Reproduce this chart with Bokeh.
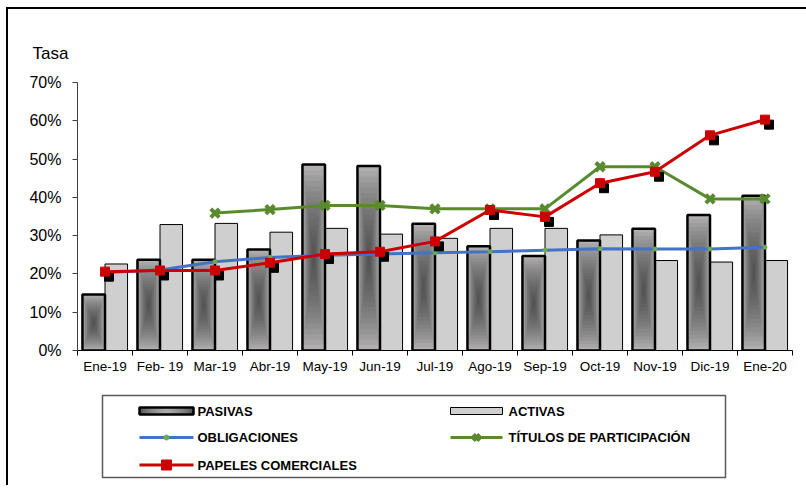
import numpy as np
from bokeh.plotting import figure
from bokeh.layouts import column
from bokeh.models import Range1d, FixedTicker, PrintfTickFormatter
from bokeh.core.properties import value
from bokeh.embed import file_html
from bokeh.resources import INLINE

# ---------------- data ----------------
months = ["Ene-19", "Feb- 19", "Mar-19", "Abr-19", "May-19", "Jun-19", "Jul-19",
          "Ago-19", "Sep-19", "Oct-19", "Nov-19", "Dic-19", "Ene-20"]
pasivas = [14.6, 23.7, 23.7, 26.4, 48.6, 48.2, 33.1, 27.2, 24.7, 28.7, 31.8, 35.4, 40.4]
activas = [22.6, 32.9, 33.2, 30.9, 31.9, 30.4, 29.3, 31.9, 31.9, 30.2, 23.5, 23.1, 23.5]
obligaciones = [20.4, 21.0, 23.2, 24.3, 24.9, 25.2, 25.5, 25.8, 26.2, 26.6, 26.5, 26.5, 27.0]
titulos = [np.nan, np.nan, 35.9, 36.8, 37.9, 37.9, 37.0, 37.0, 37.0, 48.0, 48.0, 39.6, 39.6]
papeles = [20.6, 20.9, 20.9, 22.9, 25.2, 25.8, 28.5, 36.7, 34.9, 43.7, 46.7, 56.2, 60.3]
y_ticks = [0, 10, 20, 30, 40, 50, 60, 70]
legend_labels = ["PASIVAS", "ACTIVAS", "OBLIGACIONES", "TÍTULOS DE PARTICIPACIÓN",
                 "PAPELES COMERCIALES"]

# ---------------- styles ----------------
FONT = "Liberation Sans"
C_ACT = "#d0cfcf"
C_PAS = "#b0aeae"
C_BLUE = "#4472C4"
C_DOT = "#70AD47"
C_GREEN = "#5A8A2E"
C_RED = "#CC0000"

# ---------------- layout constants (pixels) ----------------
W = 798
H1, H2 = 376, 100
FL, FT = 69, 73          # frame left / top inside chart canvas
FW, FH = 715, 268        # frame width / height
FR = W - FL - FW

x = np.arange(len(months), dtype=float)
BAR_W = 0.41
px_per_x = FW / len(months)
px_per_y = FH / (y_ticks[-1] - y_ticks[0])

p = figure(width=W, height=H1, output_backend="svg", toolbar_location=None,
           x_range=Range1d(-0.5, len(months) - 0.5), y_range=Range1d(y_ticks[0], y_ticks[-1]),
           min_border_left=FL, min_border_top=FT, min_border_right=FR,
           min_border_bottom=H1 - FT - FH)
p.grid.visible = False
p.outline_line_color = None
p.background_fill_color = "white"
p.border_fill_color = "white"

# ---------------- bars ----------------
p.vbar(x=x + BAR_W / 2, top=activas, bottom=0, width=BAR_W,
       fill_color=C_ACT, line_color="black", line_width=1)

pas = np.array(pasivas)
p.vbar(x=x - BAR_W / 2, top=pas, bottom=0, width=BAR_W, fill_color=C_PAS, line_color=None)
N = 16
for i in range(1, N + 1):
    f = 1 - i / (N + 1)
    half = pas / 2
    p.vbar(x=x - BAR_W / 2, top=half + half * f, bottom=half - half * f,
           width=BAR_W * f, fill_color="#323232", fill_alpha=0.065, line_color=None)
p.vbar(x=x - BAR_W / 2, top=pas, bottom=0, width=BAR_W,
       fill_color=None, line_color="black", line_width=2.5)

# ---------------- lines ----------------
p.line(x, obligaciones, line_color=C_BLUE, line_width=3)
p.scatter(x, obligaciones, marker="circle", size=4, fill_color=C_DOT, line_color=C_DOT)
tit = np.array(titulos, dtype=float)
p.line(x, tit, line_color=C_GREEN, line_width=3)
p.scatter(x, tit, marker="x", size=12, line_color=C_GREEN, line_width=4)
p.scatter(x + 4 / px_per_x, np.array(papeles) - 5 / px_per_y, marker="square", size=9,
          fill_color="black", line_color="black")
p.line(x, papeles, line_color=C_RED, line_width=3)
p.scatter(x, papeles, marker="square", size=9, fill_color=C_RED, line_color=C_RED)

# ---------------- axes ----------------
xa = p.xaxis[0]
xa.ticker = FixedTicker(ticks=[float(v) for v in x],
                        minor_ticks=[float(v) - 0.5 for v in range(len(months) + 1)])
xa.major_label_overrides = {int(i): m for i, m in enumerate(months)}
xa.major_tick_line_color = None
xa.major_tick_out = 0
xa.major_tick_in = 0
xa.minor_tick_line_color = "black"
xa.minor_tick_out = 5
xa.minor_tick_in = 0
xa.axis_line_color = "black"
xa.major_label_text_font = FONT
xa.major_label_text_font_size = "13.5px"
xa.major_label_text_color = "black"
xa.major_label_standoff = 3

ya = p.yaxis[0]
ya.ticker = FixedTicker(ticks=y_ticks, minor_ticks=[])
ya.formatter = PrintfTickFormatter(format="%d%%")
ya.major_tick_out = 5
ya.major_tick_in = 0
ya.major_tick_line_color = "#404040"
ya.minor_tick_line_color = None
ya.axis_line_color = "#404040"
ya.major_label_text_font = FONT
ya.major_label_text_font_size = "16px"
ya.major_label_text_color = "black"
ya.major_label_standoff = 11

# ---------------- title ----------------
p.title.text = "Tasa"
p.title.text_font = FONT
p.title.text_font_size = "17px"
p.title.text_font_style = "normal"
p.title.text_color = "black"
p.title.offset = -45
p.title.standoff = 39

# ---------------- legend (separate panel, page pixel coordinates) ----------------
# its frame is aligned with the chart frame (page x 77..792), page y 385..485
PX0 = 8 + FL
PX1 = PX0 + FW
OY = 385
lg = figure(width=W, height=H2, output_backend="svg", toolbar_location=None,
            x_range=Range1d(PX0, PX1), y_range=Range1d(OY + H2, OY),
            min_border_left=FL, min_border_right=FR, min_border_top=0, min_border_bottom=0,
            x_axis_location=None, y_axis_location=None)
lg.grid.visible = False
lg.outline_line_color = None
lg.background_fill_color = "white"
lg.border_fill_color = "white"

col_glyph = [139, 450]
glyph_w = [54, 52]
col_text = [197, 508]
rows = [410.5, 437, 464.5]
box = dict(left=102, right=725, top=395, bottom=477)

# frame of the legend
lg.quad(left=[box["left"]], right=[box["right"]], top=[box["top"]], bottom=[box["bottom"]],
        fill_color=None, line_color="#595959", line_width=1.5)

# PASIVAS swatch (gradient-like)
gx0, gx1 = col_glyph[0], col_glyph[0] + glyph_w[0]
gy0, gy1 = rows[0] - 3.5, rows[0] + 3.5
lg.quad(left=[gx0], right=[gx1], top=[gy0], bottom=[gy1], fill_color="#5a5a5a", line_color=None)
for i in range(1, 9):
    f = 1 - i / 9
    cx = (gx0 + gx1) / 2
    hw = (gx1 - gx0) / 2 * f
    lg.quad(left=[cx - hw], right=[cx + hw], top=[gy0], bottom=[gy1],
            fill_color="#d8d8d8", fill_alpha=0.12, line_color=None)
lg.quad(left=[gx0], right=[gx1], top=[gy0], bottom=[gy1], fill_color=None,
        line_color="black", line_width=2.5)

# ACTIVAS swatch
ax0 = col_glyph[1]
lg.quad(left=[ax0], right=[ax0 + glyph_w[1]], top=[rows[0] - 3.5], bottom=[rows[0] + 3.5],
        fill_color=C_ACT, line_color="black", line_width=1)

# OBLIGACIONES
lg.line([col_glyph[0], col_glyph[0] + glyph_w[0]], [rows[1], rows[1]], line_color=C_BLUE, line_width=3)
lg.scatter([col_glyph[0] + glyph_w[0] / 2], [rows[1]], marker="circle", size=5,
           fill_color=C_DOT, line_color=C_DOT)

# TITULOS
lg.line([col_glyph[1], col_glyph[1] + glyph_w[1]], [rows[1], rows[1]], line_color=C_GREEN, line_width=3)
lg.scatter([col_glyph[1] + glyph_w[1] / 2], [rows[1]], marker="x", size=9,
           line_color=C_GREEN, line_width=4)

# PAPELES
lg.line([col_glyph[0], col_glyph[0] + glyph_w[0]], [rows[2], rows[2]], line_color=C_RED, line_width=3)
lg.scatter([col_glyph[0] + glyph_w[0] / 2], [rows[2]], marker="square", size=10,
           fill_color=C_RED, line_color=C_RED)

# labels
lx = [col_text[0], col_text[1], col_text[0], col_text[1], col_text[0]]
ly = [rows[0], rows[0], rows[1], rows[1], rows[2]]
lg.text(x=lx, y=ly, text=legend_labels, text_font=value(FONT), text_font_size="13px",
        text_font_style="bold", text_color="black", text_baseline="middle", text_align="left")

layout = column(p, lg, spacing=0)
layout.styles = {"margin-left": "6px", "margin-top": "7px",
                 "border-left": "2px solid #000000", "border-top": "2px solid #000000"}

open("out.html", "w").write(file_html(layout, INLINE))
